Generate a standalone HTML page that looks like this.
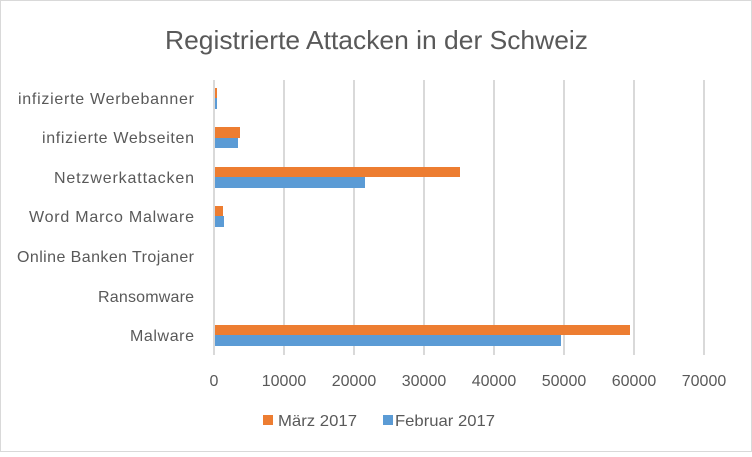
<!DOCTYPE html><html><head><style>
body{margin:0}
svg text{font-family:"Liberation Sans",sans-serif;fill:#595959}
</style></head><body>
<svg width="752" height="452" xmlns="http://www.w3.org/2000/svg">
<rect x="0.5" y="0.5" width="751" height="451" fill="#fff" stroke="#d9d9d9"/>
<text x="165" y="49" font-size="26" textLength="423" lengthAdjust="spacingAndGlyphs">Registrierte Attacken in der Schweiz</text>
<g stroke="#d9d9d9" stroke-width="2">
<line x1="214" y1="80" x2="214" y2="355"/><line x1="284" y1="80" x2="284" y2="355"/>
<line x1="354" y1="80" x2="354" y2="355"/><line x1="424" y1="80" x2="424" y2="355"/>
<line x1="494" y1="80" x2="494" y2="355"/><line x1="564" y1="80" x2="564" y2="355"/>
<line x1="634" y1="80" x2="634" y2="355"/><line x1="704" y1="80" x2="704" y2="355"/>
</g>
<g fill="#ed7d31">
<rect x="215" y="88" width="2" height="10"/>
<rect x="215" y="127" width="25" height="11"/>
<rect x="215" y="167" width="245" height="10"/>
<rect x="215" y="206" width="8" height="10"/>
<rect x="215" y="325" width="415" height="10"/>
</g>
<g fill="#5b9bd5">
<rect x="215" y="98" width="2" height="11"/>
<rect x="215" y="138" width="23" height="10"/>
<rect x="215" y="177" width="150" height="11"/>
<rect x="215" y="216" width="9" height="11"/>
<rect x="215" y="335" width="346" height="11"/>
</g>
<g font-size="16" lengthAdjust="spacingAndGlyphs">
<text x="18" y="104" textLength="176">infizierte Werbebanner</text>
<text x="42" y="143" textLength="152">infizierte Webseiten</text>
<text x="54" y="183" textLength="140">Netzwerkattacken</text>
<text x="29" y="222" textLength="165">Word Marco Malware</text>
<text x="17" y="262" textLength="177">Online Banken Trojaner</text>
<text x="98" y="302" textLength="96">Ransomware</text>
<text x="130" y="341" textLength="64">Malware</text>
</g>
<g font-size="16" text-anchor="middle">
<text x="214" y="386">0</text><text x="284" y="386">10000</text><text x="354" y="386">20000</text>
<text x="424" y="386">30000</text><text x="494" y="386">40000</text><text x="564" y="386">50000</text>
<text x="634" y="386">60000</text><text x="704" y="386">70000</text>
</g>
<rect x="263" y="415" width="10" height="10" fill="#ed7d31"/>
<text x="278" y="426" font-size="16" textLength="79" lengthAdjust="spacingAndGlyphs">März 2017</text>
<rect x="383" y="415" width="10" height="10" fill="#5b9bd5"/>
<text x="395" y="426" font-size="16" textLength="100" lengthAdjust="spacingAndGlyphs">Februar 2017</text>
</svg>
</body></html>
